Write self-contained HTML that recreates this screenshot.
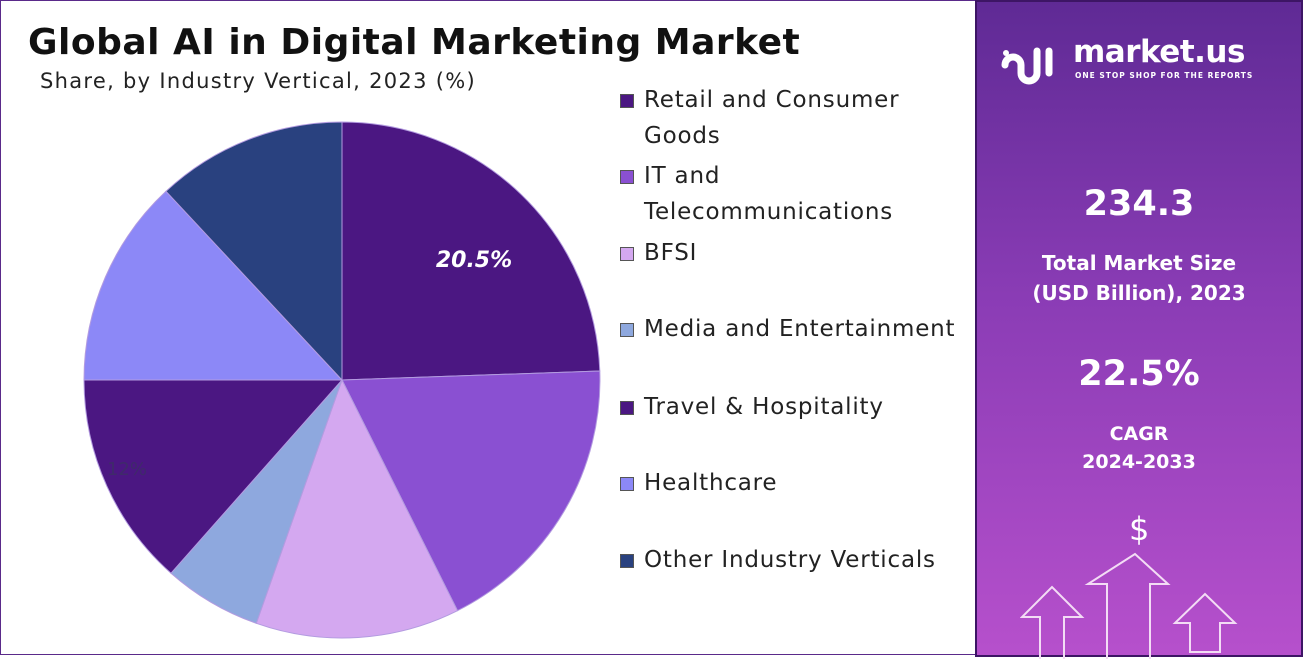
<!DOCTYPE html>
<html><head><meta charset="utf-8"><style>
body{margin:0;width:1303px;height:657px;overflow:hidden;font-family:"DejaVu Sans","Liberation Sans",sans-serif;}
.wrap{position:relative;width:1303px;height:657px;background:#fff;}
.left{position:absolute;left:0;top:0;width:975px;height:655px;border:1px solid #5a2a8a;border-right:none;box-sizing:border-box;background:#fff;}
.right{position:absolute;left:975px;top:0;width:328px;height:657px;background:linear-gradient(180deg,#5f2a95 0%,#8a3cb5 45%,#b650cc 100%);border:2px solid #3d1565;box-sizing:border-box;color:#fff;text-align:center;}
.title{position:absolute;left:28px;top:22px;font-size:36px;font-weight:bold;color:#111;letter-spacing:0.5px;white-space:nowrap;}
.sub{position:absolute;left:40px;top:69px;font-size:21px;letter-spacing:1.3px;color:#222;white-space:nowrap;}
.leg{position:absolute;left:620px;font-size:23px;color:#222;line-height:36px;letter-spacing:0.8px;white-space:nowrap;}
.leg i{position:absolute;left:0;top:12px;width:14px;height:14px;border:1px solid #555;box-sizing:border-box;}
.leg span{display:block;margin-left:24px;}
</style></head><body><div class="wrap">
<div class="left"></div>
<div class="title">Global AI in Digital Marketing Market</div>
<div class="sub">Share, by Industry Vertical, 2023 (%)</div>
<svg style="position:absolute;left:0;top:0" width="975" height="657">
<g stroke="#b39be0" stroke-width="1">
<path d="M342,380 L342,122 A258,258 0 0 1 599.8,371 Z" fill="#4b1782"/>
<path d="M342,380 L599.8,371 A258,258 0 0 1 457.5,610.7 Z" fill="#8a50d2"/>
<path d="M342,380 L457.5,610.7 A258,258 0 0 1 256.3,623.3 Z" fill="#d4a8f0"/>
<path d="M342,380 L256.3,623.3 A258,258 0 0 1 171,573.2 Z" fill="#8ea8de"/>
<path d="M342,380 L171,573.2 A258,258 0 0 1 84,380 Z" fill="#4b1782"/>
<path d="M342,380 L84,380 A258,258 0 0 1 166,191.3 Z" fill="#8c88f7"/>
<path d="M342,380 L166,191.3 A258,258 0 0 1 342,122 Z" fill="#29417f"/>
</g>
<text x="474" y="267" font-size="22" font-weight="bold" font-style="italic" fill="#fff" text-anchor="middle" font-family="DejaVu Sans">20.5%</text>
<text x="127" y="475" font-size="18" fill="#3f2a6a" text-anchor="middle" font-family="DejaVu Sans">12%</text>
</svg>
<div class="leg" style="top:82px"><i style="background:#4b1782"></i><span>Retail and Consumer<br>Goods</span></div>
<div class="leg" style="top:158px"><i style="background:#8a50d2"></i><span>IT and<br>Telecommunications</span></div>
<div class="leg" style="top:235px"><i style="background:#d4a8f0"></i><span>BFSI</span></div>
<div class="leg" style="top:311px"><i style="background:#8ea8de"></i><span>Media and Entertainment</span></div>
<div class="leg" style="top:389px"><i style="background:#4b1782"></i><span>Travel &amp; Hospitality</span></div>
<div class="leg" style="top:465px"><i style="background:#8c88f7"></i><span>Healthcare</span></div>
<div class="leg" style="top:542px"><i style="background:#29417f"></i><span>Other Industry Verticals</span></div>
<div class="right">
<svg style="position:absolute;left:20px;top:33px" width="75" height="50"><path d="M8,30 a8,8 0 0 1 16,0 v8 a8,8 0 0 0 16,0 v-22" fill="none" stroke="#fff" stroke-width="7" stroke-linecap="round"/><line x1="52" y1="16" x2="52" y2="38" stroke="#fff" stroke-width="7" stroke-linecap="round"/><circle cx="9" cy="18" r="3" fill="#fff"/></svg>
<div style="position:absolute;left:96px;top:32px;font-size:31px;font-weight:bold;letter-spacing:-0.5px">market.us</div>
<div style="position:absolute;left:98px;top:69px;font-size:7.5px;font-weight:bold;letter-spacing:1px;white-space:nowrap">ONE STOP SHOP FOR THE REPORTS</div>
<div style="position:absolute;left:0;width:324px;top:182px;font-size:35px;font-weight:bold">234.3</div>
<div style="position:absolute;left:0;width:324px;top:246px;font-size:20px;font-weight:bold;line-height:30px">Total Market Size<br>(USD Billion), 2023</div>
<div style="position:absolute;left:0;width:324px;top:352px;font-size:35px;font-weight:bold">22.5%</div>
<div style="position:absolute;left:0;width:324px;top:418px;font-size:19px;font-weight:bold;line-height:28px">CAGR<br>2024-2033</div>
<div style="position:absolute;left:152px;top:508px;font-size:32px">$</div>
<svg style="position:absolute;left:43px;top:550px" width="240" height="107" fill="none" stroke="#f3dcf5" stroke-width="2">
<path d="M20,107 V65 H2 L32,35 L62,65 H44 V107"/>
<path d="M87,107 V32 H68 L115,2 L148,32 H130 V107"/>
<path d="M170,100 V71 H155 L185,42 L215,71 H200 V100 Z"/>
</svg>
</div>
</div></body></html>
